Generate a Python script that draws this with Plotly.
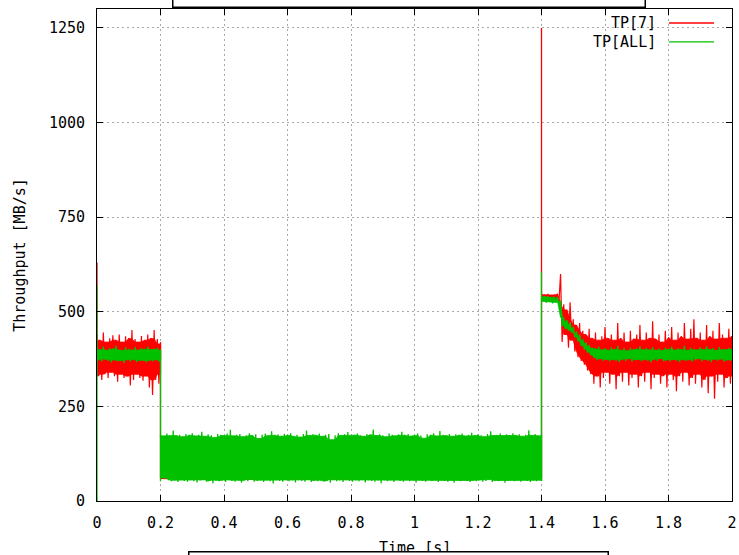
import plotly.graph_objects as go

# ---------------- data ----------------
series_names = ["TP[7]", "TP[ALL]"]
x_ticks = [0, 0.2, 0.4, 0.6, 0.8, 1, 1.2, 1.4, 1.6, 1.8, 2]
y_ticks = [0, 250, 500, 750, 1000, 1250]

# time grids (seconds)
t_a = [round(0.01 * i, 2) for i in range(21)]            # 0.00 .. 0.20
t_b = [round(0.20 + 0.01 * i, 2) for i in range(121)]    # 0.20 .. 1.40
t_c = [round(1.40 + 0.01 * i, 2) for i in range(61)]     # 1.40 .. 2.00

# TP[7] band 0.00-0.20 (upper / lower envelope, MB/s)
tp7_a_hi = [440, 425, 445, 420, 430, 438, 425, 440, 420, 435,
            430, 452, 428, 420, 436, 425, 440, 430, 452, 428, 415]
tp7_a_lo = [330, 320, 335, 325, 340, 330, 315, 335, 325, 330,
            305, 320, 335, 325, 318, 330, 300, 280, 320, 310, 335]
# TP[ALL] band 0.00-0.20
all_a_hi = [405, 400, 408, 398, 404, 402, 410, 400, 398, 406,
            402, 400, 407, 399, 404, 401, 408, 400, 403, 405, 398]
all_a_lo = [372, 368, 375, 370, 366, 373, 369, 371, 365, 372,
            368, 374, 367, 370, 372, 366, 371, 369, 373, 368, 370]

# TP[ALL] band 0.20-1.40
all_b_hi = [176, 172, 178, 174, 186, 173, 175, 170, 177, 174,
            179, 172, 175, 183, 171, 176, 174, 168, 177, 175,
            173, 178, 188, 172, 175, 177, 170, 174, 179, 173,
            176, 165, 175, 178, 172, 184, 174, 176, 171, 177,
            174, 179, 172, 175, 169, 177, 186, 173, 176, 174,
            178, 171, 175, 177, 162, 174, 179, 173, 176, 182,
            172, 175, 178, 174, 171, 177, 175, 189, 173, 176,
            174, 170, 178, 175, 172, 176, 183, 174, 177, 171,
            175, 178, 173, 166, 176, 174, 179, 172, 185, 175,
            173, 177, 171, 176, 174, 178, 172, 175, 180, 173,
            176, 174, 170, 177, 184, 173, 175, 178, 172, 176,
            174, 179, 173, 176, 171, 175, 187, 174, 177, 172,
            176]
all_b_lo = [62, 60, 55, 52, 54, 50, 56, 53, 51, 55,
            52, 49, 54, 56, 51, 53, 47, 55, 52, 54,
            50, 56, 53, 51, 55, 48, 54, 52, 57, 51,
            53, 55, 50, 54, 52, 46, 55, 53, 51, 56,
            52, 54, 49, 55, 53, 51, 56, 50, 54, 52,
            55, 51, 53, 48, 56, 52, 54, 50, 55, 53,
            51, 54, 52, 56, 49, 55, 53, 51, 54, 47,
            55, 52, 54, 50, 56, 53, 51, 55, 52, 54,
            49, 55, 53, 51, 56, 52, 54, 50, 55, 53,
            51, 54, 48, 55, 52, 56, 53, 50, 54, 52,
            55, 51, 53, 57, 50, 54, 52, 55, 48, 53,
            56, 52, 54, 51, 55, 53, 50, 54, 52, 55,
            53]
# TP[7] level 0.20-1.40 (mostly hidden under TP[ALL])
tp7_b_t = [0.20, 0.24, 0.50, 0.87, 1.20, 1.40]
tp7_b = [60, 59, 58, 59, 58, 60]

# TP[7] band 1.40-2.00
tp7_c_hi = [548, 545, 547, 544, 546, 548, 600, 520, 505, 525,
            480, 465, 470, 450, 440, 455, 430, 445, 425, 435,
            460, 430, 440, 425, 470, 430, 445, 420, 450, 428,
            440, 465, 425, 445, 430, 475, 428, 440, 420, 450,
            432, 460, 425, 445, 435, 470, 428, 455, 480, 430,
            445, 425, 465, 435, 450, 428, 470, 440, 430, 455, 435]
tp7_c_lo = [532, 528, 530, 527, 529, 526, 420, 440, 405, 425,
            395, 380, 370, 360, 345, 335, 310, 330, 300, 325,
            340, 310, 335, 295, 330, 315, 340, 305, 325, 335,
            300, 330, 315, 340, 295, 325, 335, 310, 330, 300,
            335, 320, 290, 330, 315, 340, 305, 325, 310, 335,
            300, 320, 285, 330, 270, 315, 335, 300, 325, 310, 330]
# TP[ALL] band 1.40-2.00
all_c_hi = [542, 540, 541, 538, 540, 539, 530, 485, 478, 472,
            460, 448, 440, 428, 420, 412, 405, 402, 408, 400,
            404, 398, 406, 401, 410, 399, 404, 397, 405, 400,
            403, 409, 398, 404, 400, 407, 399, 403, 398, 405,
            401, 408, 399, 404, 400, 410, 398, 405, 402, 399,
            406, 400, 409, 401, 404, 398, 407, 402, 400, 405, 401]
all_c_lo = [528, 524, 526, 522, 525, 521, 462, 455, 450, 445,
            432, 422, 410, 400, 392, 385, 378, 372, 376, 370,
            374, 369, 375, 371, 367, 373, 370, 376, 368, 372,
            374, 369, 375, 371, 366, 373, 370, 376, 369, 372,
            368, 374, 371, 367, 375, 370, 373, 368, 372, 376,
            369, 374, 370, 367, 373, 371, 375, 368, 372, 370, 374]

# vertical jumps (time, from, to)
tp7_jump_t = [0.0, 0.2, 1.4]
tp7_jump_lo = [330, 60, 60]
tp7_jump_hi = [630, 420, 1250]
all_jump_t = [0.0, 0.2, 1.4]
all_jump_lo = [0, 52, 53]
all_jump_hi = [570, 400, 605]

# ---------------- styles ----------------
RED = "#ff0000"
GREEN = "#00c000"
FONT = "DejaVu Sans Mono"


def band(t, hi, lo, color, width=1.2):
    """Noisy trace: solid core between the envelopes plus a zigzag reaching the spikes."""
    n = len(t)
    core_hi = [min(hi[max(0, i - 1):i + 2]) for i in range(n)]
    core_lo = [max(lo[max(0, i - 1):i + 2]) for i in range(n)]
    core = go.Scatter(x=list(t) + list(t)[::-1], y=core_hi + core_lo[::-1],
                      mode="lines", fill="toself", fillcolor=color,
                      line=dict(color=color, width=0.8),
                      showlegend=False, hoverinfo="skip")
    xs, ys = [], []
    for i in range(n):
        xs.append(t[i])
        ys.append(hi[i])
        if i < n - 1:
            xs.append((t[i] + t[i + 1]) / 2)
            ys.append(lo[i])
        else:
            xs.append(t[i])
            ys.append(lo[i])
    zig = go.Scatter(x=xs, y=ys, mode="lines",
                     line=dict(color=color, width=width),
                     showlegend=False, hoverinfo="skip")
    return [core, zig]


def jumps(ts, los, his, color):
    xs, ys = [], []
    for t, lo, hi in zip(ts, los, his):
        xs += [t, t, None]
        ys += [lo, hi, None]
    return go.Scatter(x=xs, y=ys, mode="lines",
                      line=dict(color=color, width=1.3),
                      showlegend=False, hoverinfo="skip")


fig = go.Figure()
# TP[7] first (drawn underneath)
fig.add_traces(band(t_a, tp7_a_hi, tp7_a_lo, RED))
fig.add_trace(go.Scatter(x=tp7_b_t, y=tp7_b, mode="lines",
                         line=dict(color=RED, width=1.5),
                         showlegend=False, hoverinfo="skip"))
fig.add_traces(band(t_c, tp7_c_hi, tp7_c_lo, RED))
fig.add_trace(jumps(tp7_jump_t, tp7_jump_lo, tp7_jump_hi, RED))
# TP[ALL] on top
fig.add_traces(band(t_a, all_a_hi, all_a_lo, GREEN, 1.3))
fig.add_traces(band(t_b, all_b_hi, all_b_lo, GREEN, 1.3))
fig.add_traces(band(t_c, all_c_hi, all_c_lo, GREEN, 1.3))
fig.add_trace(jumps(all_jump_t, all_jump_lo, all_jump_hi, GREEN))

axis_common = dict(
    showline=True, linecolor="black", linewidth=1, mirror="ticks",
    ticks="inside", ticklen=6, tickcolor="black", tickwidth=1,
    showgrid=True, gridcolor="#a8a8a8", gridwidth=1, griddash="2px,3px",
    zeroline=False, automargin=False, ticklabeloverflow="allow",
    tickfont=dict(family=FONT, size=15, color="#000"),
)

fig.update_layout(
    width=739, height=555,
    margin=dict(l=97, r=7, t=9, b=54, autoexpand=False),
    paper_bgcolor="white", plot_bgcolor="white",
    showlegend=False,
    font=dict(family=FONT, size=15, color="#000"),
    xaxis=dict(range=[0, 2], tickvals=x_ticks,
               ticktext=[f"{v:g}" for v in x_ticks],
               ticklabelstandoff=8, **axis_common),
    yaxis=dict(range=[0, 1300], tickvals=y_ticks,
               ticktext=[str(v) for v in y_ticks],
               ticklabelstandoff=8,
               title=dict(text="Throughput [MB/s]", standoff=19,
                          font=dict(family=FONT, size=15, color="#000")),
               **axis_common),
)

annotations = []
# legend (text left of line sample, gnuplot style)
legend_y = [0.9715, 0.933]
for name, color, ly in zip(series_names, [RED, GREEN], legend_y):
    annotations.append(dict(text=name, xref="paper", yref="paper", x=0.8835, y=ly,
                            xanchor="right", yanchor="middle", showarrow=False,
                            font=dict(family=FONT, size=15, color="#000")))
    fig.add_shape(type="line", xref="paper", yref="paper", x0=0.9008, x1=0.9717,
                  y0=ly, y1=ly, line=dict(color=color, width=1.3), layer="above")

# x-axis title (partly hidden by the box below, as in the reference)
annotations.append(dict(text="Time [s]", xref="paper", yref="paper", x=0.5, y=-0.0955,
                        xanchor="center", yanchor="middle", showarrow=False,
                        font=dict(family=FONT, size=15, color="#000")))
# white boxes with black border (top and bottom)
annotations.append(dict(text=" ", xref="paper", yref="paper", x=0.118, y=1.002,
                        xanchor="left", yanchor="bottom", showarrow=False,
                        width=471, height=24, bgcolor="white", bordercolor="black",
                        borderwidth=1.5, borderpad=0))
annotations.append(dict(text=" ", xref="paper", yref="paper", x=0.1433, y=-0.1016,
                        xanchor="left", yanchor="top", showarrow=False,
                        width=418, height=24, bgcolor="white", bordercolor="black",
                        borderwidth=1.5, borderpad=0))
fig.update_layout(annotations=annotations)

fig.write_html("out.html")
